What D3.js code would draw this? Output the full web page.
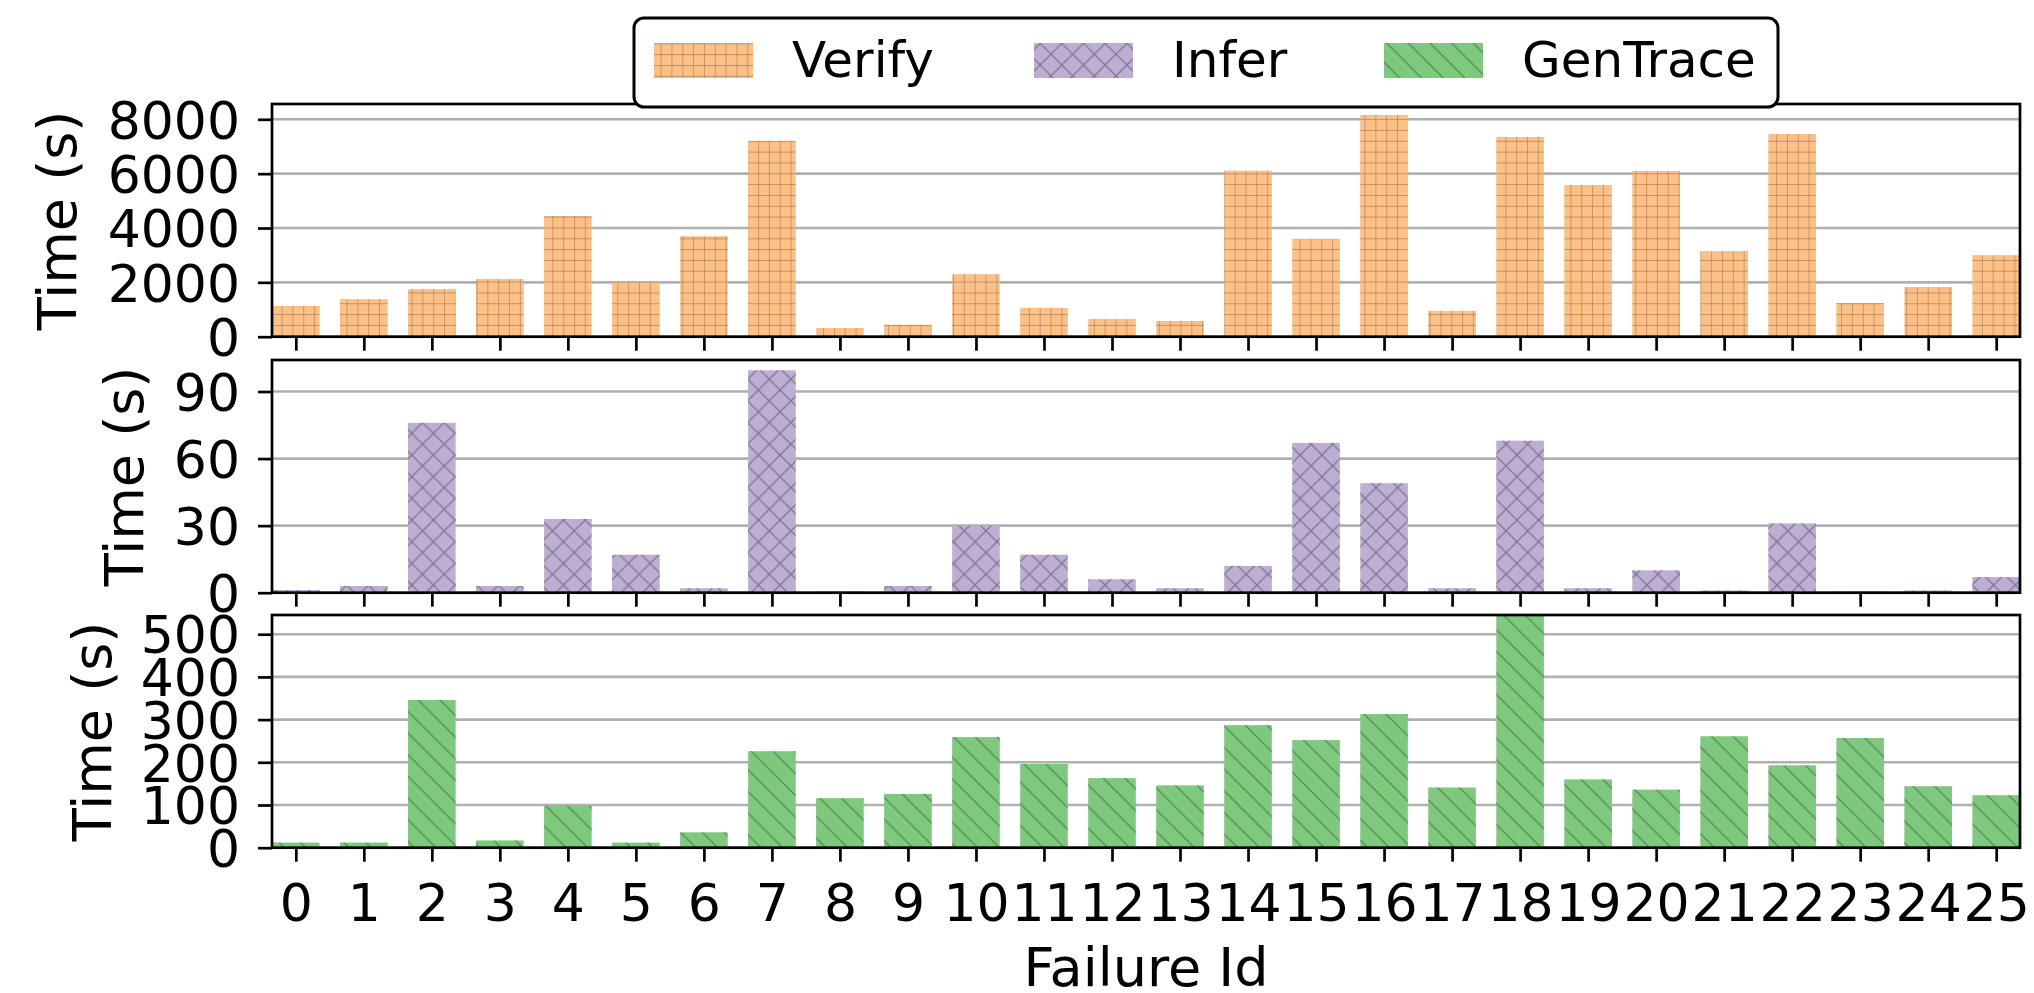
<!DOCTYPE html>
<html>
<head>
<meta charset="utf-8">
<script src="https://cdn.jsdelivr.net/npm/d3@7"></script>
<style>
  body { margin: 0; background: #fff; }
  text { font-family: "DejaVu Sans", sans-serif; }
</style>
</head>
<body>
<div id="chart"></div>
<script>
// data
var failureIds = d3.range(26);
var verifyTime = [1130, 1380, 1750, 2120, 4440, 2000, 3700, 7210, 320, 440, 2300, 1060, 650,
                  580, 6110, 3600, 8160, 950, 7350, 5580, 6100, 3150, 7460, 1240, 1830, 3000];
var inferTime = [1.2, 3, 76, 3, 33, 17, 2, 99.5, 0.5, 3, 30, 17, 6,
                 2, 12, 67, 49, 2, 68, 2, 10, 1, 31, 0.5, 1, 7];
var genTraceTime = [12, 12, 346, 17, 98, 12, 36, 226, 116, 126, 259, 196, 163,
                    146, 287, 252, 313, 141, 545, 160, 136, 261, 193, 257, 144, 123];

var seriesNames = ["Verify", "Infer", "GenTrace"];
var verifyTicks = [0, 2000, 4000, 6000, 8000];
var inferTicks = [0, 30, 60, 90];
var genTraceTicks = [0, 100, 200, 300, 400, 500];

var width = 2034, height = 993;
var left = 272, right = 2020;
var panelH = 232.7;
var tickFont = 52, labelFont = 54, legendFont = 50;

var svg = d3.select("#chart")
            .append("svg")
            .attr("width", width).attr("height", height);

svg.append("rect").attr("width", width).attr("height", height).attr("fill", "#fff");

// hatch patterns (matplotlib style '++', 'x', '\\')
var defs = svg.append("defs");
var hatchColor = "rgba(0,0,0,0.32)";

var p1 = defs.append("pattern").attr("id", "hatch-plus")
  .attr("patternUnits", "userSpaceOnUse").attr("width", 10.83).attr("height", 10.83);
p1.append("path").attr("d", "M0,0V10.83M0,0H10.83")
  .attr("stroke", hatchColor).attr("stroke-width", 1.3).attr("fill", "none");

var s = 21.67;
var p2 = defs.append("pattern").attr("id", "hatch-x")
  .attr("patternUnits", "userSpaceOnUse").attr("width", s).attr("height", s);
p2.append("path").attr("d", "M0,0L" + s + "," + s + "M0," + s + "L" + s + ",0")
  .attr("stroke", hatchColor).attr("stroke-width", 1.3).attr("fill", "none");

var p3 = defs.append("pattern").attr("id", "hatch-back")
  .attr("patternUnits", "userSpaceOnUse").attr("width", s).attr("height", s);
p3.append("path").attr("d", "M0,0L" + s + "," + s + "M-3," + (s - 3) + "L3," + (s + 3) + "M" + (s - 3) + ",-3L" + (s + 3) + ",3")
  .attr("stroke", hatchColor).attr("stroke-width", 1.3).attr("fill", "none");

var panels = [
  {name: "Verify", values: verifyTime, ticks: verifyTicks, yMax: 8564, top: 104, color: "#fdc086", hatch: "hatch-plus", labelX: 76},
  {name: "Infer", values: inferTime, ticks: inferTicks, yMax: 104.1, top: 360, color: "#beaed4", hatch: "hatch-x", labelX: 143},
  {name: "GenTrace", values: genTraceTime, ticks: genTraceTicks, yMax: 545, top: 615, color: "#7fc97f", hatch: "hatch-back", labelX: 111}
];

var xScale = d3.scaleLinear().domain([-0.35, 25.35]).range([left, right]);
var barW = xScale(0.7) - xScale(0);

panels.forEach(function(p, k) {
  var bottom = p.top + panelH;
  var yScale = d3.scaleLinear().domain([0, p.yMax]).range([bottom, p.top]);
  var g = svg.append("g");

  // grid
  g.selectAll("line.grid")
    .data(p.ticks)
    .enter()
    .append("line")
    .attr("x1", left).attr("x2", right)
    .attr("y1", function(d) { return yScale(d); })
    .attr("y2", function(d) { return yScale(d); })
    .attr("stroke", "#b0b0b0").attr("stroke-width", 2.6);

  // bars + hatch on top
  ["fill", "hatch"].forEach(function(layer) {
    g.selectAll("rect." + layer)
      .data(p.values)
      .enter()
      .append("rect")
      .attr("class", layer)
      .attr("x", function(d, i) { return xScale(i - 0.35); })
      .attr("width", barW)
      .attr("y", function(d) { return yScale(d); })
      .attr("height", function(d) { return bottom - yScale(d); })
      .attr("fill", layer == "fill" ? p.color : "url(#" + p.hatch + ")");
  });

  // y axis
  var yAxis = d3.axisLeft(yScale).tickValues(p.ticks).tickFormat(d3.format("d"))
    .tickSize(14).tickSizeOuter(0).tickPadding(18);
  var ya = g.append("g").attr("transform", "translate(" + left + ",0)").call(yAxis);
  ya.select(".domain").remove();
  ya.selectAll("line").attr("stroke", "#000").attr("stroke-width", 2.7);
  ya.selectAll("text").attr("font-size", tickFont).attr("font-family", "DejaVu Sans")
    .attr("fill", "#000").attr("dy", "0.36em");

  // x axis (labels only on the last panel)
  var xAxis = d3.axisBottom(xScale).tickValues(failureIds).tickSize(14).tickSizeOuter(0).tickPadding(22)
    .tickFormat(function(d) { return k == 2 ? d : ""; });
  var xa = g.append("g").attr("transform", "translate(0," + bottom + ")").call(xAxis);
  xa.select(".domain").remove();
  xa.selectAll("line").attr("stroke", "#000").attr("stroke-width", 2.7);
  xa.selectAll("text").attr("font-size", tickFont).attr("font-family", "DejaVu Sans").attr("fill", "#000");

  // frame
  g.append("rect")
    .attr("x", left).attr("y", p.top)
    .attr("width", right - left).attr("height", panelH)
    .attr("fill", "none").attr("stroke", "#000").attr("stroke-width", 2.7);

  // y label
  g.append("text")
    .attr("transform", "translate(" + p.labelX + "," + (p.top + panelH / 2) + ") rotate(-90)")
    .attr("text-anchor", "middle")
    .attr("font-size", labelFont)
    .text("Time (s)");
});

svg.append("text")
  .attr("x", (left + right) / 2).attr("y", 986)
  .attr("text-anchor", "middle")
  .attr("font-size", labelFont)
  .text("Failure Id");

// legend
var legend = svg.append("g");
legend.append("rect")
  .attr("x", 634).attr("y", 18).attr("width", 1144).attr("height", 89)
  .attr("rx", 10).attr("fill", "#fff").attr("stroke", "#000").attr("stroke-width", 3);

var legendX = [654, 1034, 1384];
panels.forEach(function(p, i) {
  legend.append("rect").attr("x", legendX[i]).attr("y", 43).attr("width", 99).attr("height", 35)
    .attr("fill", p.color);
  legend.append("rect").attr("x", legendX[i]).attr("y", 43).attr("width", 99).attr("height", 35)
    .attr("fill", "url(#" + p.hatch + ")");
  legend.append("text")
    .attr("x", legendX[i] + 138).attr("y", 77)
    .attr("font-size", legendFont)
    .text(seriesNames[i]);
});
</script>
</body>
</html>
